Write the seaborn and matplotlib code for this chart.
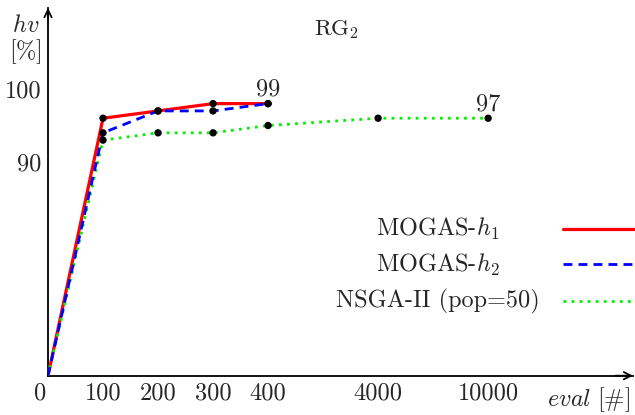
import numpy as np
import pandas as pd
import matplotlib
matplotlib.use("Agg")
import matplotlib.pyplot as plt
from matplotlib.lines import Line2D
from matplotlib.transforms import ScaledTranslation
import seaborn as sns

# ---------------- data ----------------
evals = [0, 100, 200, 300, 400, 4000, 10000]
x_tick_labels = ["0", "100", "200", "300", "400", "4000", "10000"]
mogas_h1_eval = [0, 100, 200, 300, 400]
mogas_h1_hv = [0, 96, 97, 98, 98]
mogas_h2_eval = [0, 100, 200, 300, 400]
mogas_h2_hv = [0, 94, 97, 97, 98]
nsga_eval = [0, 100, 200, 300, 400, 4000, 10000]
nsga_hv = [0, 93, 94, 94, 95, 96, 96]
y_ticks = [90, 100]
series_names = ["MOGAS-$h_1$", "MOGAS-$h_2$", "NSGA-II (pop=50)"]
end_labels = ["99", "97"]

# ---------------- style ----------------
sns.set_theme(style="white")
plt.rcParams.update({
    "font.family": "serif",
    "font.serif": ["cmr10"],
    "mathtext.fontset": "cm",
    "axes.unicode_minus": False,
    "axes.formatter.use_mathtext": True,
})

W, H = 635, 415
fig = plt.figure(figsize=(W / 100, H / 100), dpi=100)
ax_left, ax_right, ax_bottom, ax_top = 48, 633, 375.7, 8
ax = fig.add_axes([ax_left / W, 1 - ax_bottom / H,
                   (ax_right - ax_left) / W, (ax_bottom - ax_top) / H])


def piecewise(src, dst):
    src = np.asarray(src, float)
    dst = np.asarray(dst, float)

    def f(v, s, d):
        v = np.asarray(v, float)
        out = np.interp(v, s, d)
        hi = (d[-1] - d[-2]) / (s[-1] - s[-2])
        lo = (d[1] - d[0]) / (s[1] - s[0])
        out = np.where(v > s[-1], d[-1] + (v - s[-1]) * hi, out)
        out = np.where(v < s[0], d[0] + (v - s[0]) * lo, out)
        return out

    return (lambda v: f(v, src, dst)), (lambda v: f(v, dst, src))


# broken x axis: 0..400 linear, then 4000 and 10000 compressed
ax.set_xscale("function", functions=piecewise([0, 400, 4000, 10000], [0, 4, 6, 8]))
# broken y axis: 0..90 compressed, 90..100 expanded
ax.set_yscale("function", functions=piecewise([0, 90, 100], [0, 29.27, 39.27]))

df = pd.concat([
    pd.DataFrame({"eval": mogas_h1_eval, "hv": mogas_h1_hv, "algo": series_names[0]}),
    pd.DataFrame({"eval": mogas_h2_eval, "hv": mogas_h2_hv, "algo": series_names[1]}),
    pd.DataFrame({"eval": nsga_eval, "hv": nsga_hv, "algo": series_names[2]}),
])

colors = ["#ff0000", "#0000ff", "#00f000"]
styles = [dict(lw=2.3, ls="-"),
          dict(lw=2.0, dashes=(3.2, 2.2)),
          dict(lw=2.0, dashes=(1.0, 1.9))]
order = [0, 2, 1]
for i in order:
    sub = df[df["algo"] == series_names[i]]
    kw = dict(styles[i])
    line_kw = {"lw": kw.pop("lw")}
    if "ls" in kw:
        line_kw["linestyle"] = kw["ls"]
    sns.lineplot(data=sub, x="eval", y="hv", ax=ax, color=colors[i],
                 sort=False, estimator=None, legend=False, zorder=3, **line_kw)
    ln = ax.get_lines()[-1]
    if "dashes" in kw:
        ln.set_dashes(kw["dashes"])
    ln.set_solid_capstyle("butt")

pts = df[df["eval"] > 0]
sns.scatterplot(data=pts, x="eval", y="hv", ax=ax, color="black", s=28,
                edgecolor="none", legend=False, zorder=4)

# end labels
ax.annotate(end_labels[0], (mogas_h1_eval[-1], mogas_h1_hv[-1]),
            xytext=(0, 5.8), textcoords="offset points", ha="center",
            va="baseline", fontsize=17.5)
ax.annotate(end_labels[1], (nsga_eval[-1], nsga_hv[-1]),
            xytext=(0, 5.8), textcoords="offset points", ha="center",
            va="baseline", fontsize=17.5)

# axes limits & ticks
ax.set_xlim(0, 17900)
ax.set_ylim(0, 111.1)
ax.set_xticks(evals)
ax.set_xticklabels(x_tick_labels, fontsize=17.5)
ax.set_yticks(y_ticks)
ax.set_yticklabels([str(t) for t in y_ticks], fontsize=17.5)
ax.tick_params(axis="x", length=0, pad=5)
ax.tick_params(axis="y", length=2.5, width=1.2, direction="out", pad=2.5, color="black")
ax.xaxis.set_minor_locator(matplotlib.ticker.NullLocator())
ax.yaxis.set_minor_locator(matplotlib.ticker.NullLocator())
lbl0 = ax.get_xticklabels()[0]
lbl0.set_transform(lbl0.get_transform() + ScaledTranslation(-8 / 100, 0, fig.dpi_scale_trans))
ax.set_xlabel("")
ax.set_ylabel("")
ax.grid(False)

for s in ["top", "right"]:
    ax.spines[s].set_visible(False)
for s in ["left", "bottom"]:
    ax.spines[s].set_color("black")
    ax.spines[s].set_linewidth(1.3)

# arrow heads
ax.annotate("", xy=(1.0, 0), xytext=(0.97, 0), xycoords="axes fraction",
            arrowprops=dict(arrowstyle="->", lw=1.3, color="black",
                            mutation_scale=13, shrinkA=0, shrinkB=0))
ax.annotate("", xy=(0, 1.0), xytext=(0, 0.97), xycoords="axes fraction",
            arrowprops=dict(arrowstyle="->", lw=1.3, color="black",
                            mutation_scale=13, shrinkA=0, shrinkB=0))

# axis labels & title
fig.text(630 / W, 1 - 400 / H, r"$eval\ [\#]$", ha="right", va="center", fontsize=17.5)
fig.text(26 / W, 1 - 26 / H, r"$hv$", ha="center", va="center", fontsize=17.5)
fig.text(25 / W, 1 - 52 / H, r"$[\%]$", ha="center", va="center", fontsize=17.5)
fig.text(336 / W, 1 - 30 / H, r"RG$_2$", ha="center", va="center", fontsize=16.5)

# manual legend
text_baselines = [236, 272, 307]
line_ys = [229, 264, 301]
for i in range(3):
    fig.text(438 / W, 1 - text_baselines[i] / H, series_names[i], ha="center",
             va="baseline", fontsize=17.5)
    l = Line2D([563 / W, 635 / W], [1 - line_ys[i] / H] * 2, transform=fig.transFigure,
               color=colors[i], lw=styles[i]["lw"])
    if "dashes" in styles[i]:
        l.set_dashes(styles[i]["dashes"])
    fig.add_artist(l)

fig.savefig("out.png", dpi=100)
